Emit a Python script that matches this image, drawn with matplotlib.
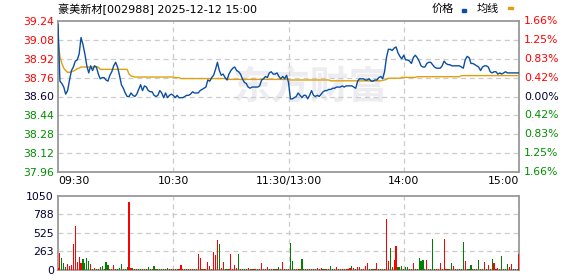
import matplotlib
matplotlib.use("Agg")
import matplotlib.pyplot as plt
from matplotlib.patches import Rectangle
from matplotlib.transforms import blended_transform_factory

plt.rcParams['font.family'] = ['DejaVu Sans', 'Noto Sans CJK SC']

title = "豪美新材[002988] 2025-12-12 15:00"
pre_close = 38.60

# minute prices 09:30 .. 11:30 / 13:00 .. 15:00 (241 points)
price = [
    39.21, 38.73, 38.71, 38.68, 38.62, 38.65, 38.74, 38.82, 38.85, 38.90,
    38.91, 38.96, 39.10, 39.04, 38.96, 38.86, 38.80, 38.86, 38.82, 38.86,
    38.85, 38.79, 38.75, 38.76, 38.76, 38.74, 38.73, 38.78, 38.81, 38.86,
    38.89, 38.85, 38.78, 38.70, 38.67, 38.63, 38.60, 38.60, 38.63, 38.61,
    38.60, 38.62, 38.66, 38.70, 38.65, 38.69, 38.68, 38.65, 38.64, 38.64,
    38.61, 38.60, 38.61, 38.65, 38.63, 38.59, 38.63, 38.59, 38.61, 38.62,
    38.61, 38.59, 38.61, 38.59, 38.59, 38.59, 38.60, 38.61, 38.61, 38.62,
    38.64, 38.63, 38.63, 38.63, 38.65, 38.66, 38.67, 38.68, 38.74, 38.73,
    38.76, 38.78, 38.83, 38.89, 38.82, 38.78, 38.79, 38.76, 38.74, 38.79,
    38.82, 38.84, 38.85, 38.82, 38.81, 38.79, 38.75, 38.72, 38.71, 38.68,
    38.67, 38.68, 38.68, 38.68, 38.68, 38.69, 38.74, 38.75, 38.77, 38.76,
    38.80, 38.81, 38.79, 38.79, 38.80, 38.77, 38.75, 38.77, 38.75, 38.78,
    38.72, 38.58, 38.58, 38.59, 38.60, 38.63, 38.61, 38.59, 38.61, 38.61,
    38.58, 38.61, 38.65, 38.61, 38.60, 38.61, 38.60, 38.62, 38.64, 38.65,
    38.65, 38.66, 38.66, 38.67, 38.67, 38.68, 38.68, 38.68, 38.69, 38.68,
    38.69, 38.69, 38.69, 38.69, 38.68, 38.67, 38.73, 38.75, 38.75, 38.75,
    38.74, 38.74, 38.75, 38.73, 38.73, 38.74, 38.74, 38.76, 38.77, 38.75,
    38.81, 38.93, 39.00, 39.00, 38.99, 39.01, 39.02, 38.97, 38.94, 38.92,
    38.95, 38.91, 38.91, 38.90, 38.88, 38.93, 38.95, 38.93, 38.90, 38.86,
    38.85, 38.85, 38.88, 38.89, 38.89, 38.87, 38.85, 38.84, 38.84, 38.84,
    38.86, 38.90, 38.88, 38.87, 38.87, 38.86, 38.86, 38.86, 38.86, 38.86,
    38.85, 38.84, 38.91, 38.94, 38.93, 38.88, 38.88, 38.87, 38.86, 38.85,
    38.82, 38.85, 38.86, 38.86, 38.85, 38.81, 38.80, 38.81, 38.81, 38.79,
    38.80, 38.79, 38.80, 38.81, 38.80, 38.80, 38.80, 38.80, 38.80, 38.80,
    38.80,
]

avg_price = [
    39.08, 38.94, 38.88, 38.84, 38.82, 38.805, 38.805, 38.81, 38.815, 38.825,
    38.835, 38.84, 38.85, 38.85, 38.85, 38.85, 38.85, 38.85, 38.85, 38.85,
    38.85, 38.85, 38.83, 38.83, 38.83, 38.83, 38.83, 38.83, 38.83, 38.83,
    38.83, 38.83, 38.83, 38.83, 38.83, 38.83, 38.83, 38.79, 38.775, 38.77,
    38.765, 38.765, 38.765, 38.765, 38.765, 38.765, 38.765, 38.765, 38.765, 38.765,
    38.765, 38.765, 38.765, 38.765, 38.765, 38.765, 38.765, 38.765, 38.765, 38.765,
    38.765, 38.76, 38.76, 38.76, 38.752, 38.752, 38.752, 38.752, 38.752, 38.752,
    38.752, 38.752, 38.752, 38.752, 38.752, 38.752, 38.752, 38.752, 38.752, 38.752,
    38.752, 38.752, 38.752, 38.752, 38.752, 38.752, 38.752, 38.752, 38.745, 38.745,
    38.745, 38.745, 38.745, 38.745, 38.745, 38.745, 38.745, 38.745, 38.745, 38.745,
    38.745, 38.745, 38.745, 38.745, 38.745, 38.745, 38.745, 38.745, 38.745, 38.745,
    38.745, 38.745, 38.745, 38.745, 38.745, 38.745, 38.745, 38.745, 38.745, 38.745,
    38.745, 38.74, 38.74, 38.74, 38.74, 38.74, 38.74, 38.74, 38.74, 38.74,
    38.74, 38.74, 38.74, 38.74, 38.74, 38.74, 38.74, 38.74, 38.74, 38.74,
    38.74, 38.74, 38.733, 38.733, 38.733, 38.733, 38.733, 38.733, 38.733, 38.733,
    38.733, 38.733, 38.733, 38.733, 38.733, 38.733, 38.733, 38.733, 38.733, 38.733,
    38.733, 38.733, 38.733, 38.733, 38.733, 38.733, 38.733, 38.733, 38.733, 38.737,
    38.74, 38.745, 38.755, 38.755, 38.755, 38.755, 38.755, 38.755, 38.755, 38.762,
    38.762, 38.762, 38.762, 38.762, 38.762, 38.762, 38.762, 38.768, 38.768, 38.768,
    38.768, 38.768, 38.768, 38.768, 38.768, 38.768, 38.768, 38.768, 38.768, 38.768,
    38.768, 38.768, 38.768, 38.768, 38.768, 38.768, 38.768, 38.768, 38.768, 38.768,
    38.777, 38.777, 38.777, 38.777, 38.777, 38.777, 38.777, 38.777, 38.777, 38.777,
    38.777, 38.777, 38.777, 38.777, 38.777, 38.777, 38.777, 38.777, 38.777, 38.777,
    38.777, 38.777, 38.777, 38.777, 38.777, 38.777, 38.777, 38.777, 38.777, 38.777,
    38.777,
]

volume = [
    30, 246, 175, 95, 47, 90, 61, 76, 374, 629,
    118, 189, 104, 161, 104, 175, 132, 90, 14, 33,
    19, 14, 43, 61, 19, 118, 76, 14, 14, 76,
    14, 14, 33, 90, 14, 14, 47, 970, 33, 33,
    14, 14, 14, 19, 14, 14, 14, 47, 14, 14,
    61, 14, 14, 14, 14, 14, 14, 33, 14, 14,
    14, 14, 14, 14, 76, 14, 14, 14, 14, 14,
    14, 14, 14, 232, 175, 14, 14, 14, 118, 61,
    14, 260, 218, 430, 374, 33, 118, 19, 19, 14,
    232, 14, 76, 33, 232, 14, 14, 19, 14, 33,
    14, 14, 14, 14, 14, 14, 104, 14, 14, 47,
    14, 14, 14, 14, 14, 47, 14, 118, 14, 14,
    14, 388, 132, 14, 14, 14, 14, 161, 14, 14,
    14, 19, 14, 14, 14, 33, 19, 33, 14, 14,
    14, 14, 61, 14, 14, 47, 14, 14, 14, 14,
    14, 14, 33, 61, 33, 14, 47, 47, 14, 14,
    61, 95, 14, 14, 14, 14, 95, 14, 14, 14,
    14, 728, 132, 317, 47, 147, 345, 47, 47, 61,
    14, 47, 47, 14, 19, 95, 14, 14, 175, 132,
    147, 14, 147, 14, 14, 445, 14, 14, 14, 95,
    14, 445, 14, 14, 14, 95, 61, 19, 14, 14,
    14, 402, 132, 14, 14, 76, 14, 14, 14, 147,
    14, 14, 118, 14, 76, 14, 161, 104, 19, 33,
    14, 203, 14, 14, 90, 47, 90, 14, 14, 14,
    232,
]

# r = up bar, g = down bar
bar_dir = ("rrgggrrrrr" "rrrggggrgr" "grggrggrrr" "rgggrggrrg" "rrggrgrggr"
           "ggrggrggrg" "rrgrrrgrgr" "rgrrrgrgrr" "grrrgrrggr" "rrrrgrgggr"
           "rgrrgrrgrr" "grrgrgrrrg" "rggrrgrggg" "rrgrgrrrgr" "grggrrgrrg"
           "rrrgrgrrgr" "rrgrgrrgrg" "rrrgrrrggg" "rggrgrgrgg" "ggrrgggrrr"
           "grrgrgrrgr" "ggrrggrgrg" "rgrgrggrrr" "ggrggrrgrg" "r")

price_ticks = [39.24, 39.08, 38.92, 38.76, 38.60, 38.44, 38.28, 38.12, 37.96]
pct_labels = ["1.66%", "1.25%", "0.83%", "0.42%", "0.00%",
              "0.42%", "0.83%", "1.25%", "1.66%"]
vol_ticks = [0, 263, 525, 788, 1050]
time_pos = [0, 60, 120, 180, 240]
time_labels = ["09:30", "10:30", "11:30/13:00", "14:00", "15:00"]

RED = '#ff0000'
GREEN = '#008f00'
DARK = '#000033'
W, H = 578, 276

fig = plt.figure(figsize=(W / 100, H / 100), dpi=100)
fig.patch.set_facecolor('white')


def px_axes(left, top, right, bottom):
    return fig.add_axes([left / W, 1 - bottom / H, (right - left) / W, (bottom - top) / H])


ax = px_axes(58, 21, 519, 172)
axv = px_axes(58, 196, 519, 270)

minutes = list(range(len(price)))

# faint watermark behind the price panel
fig.text(310 / W, 1 - 88 / H, "东方财富", fontsize=28, fontweight='bold',
         color='#ededf1', ha='center', va='center', family=['Noto Sans CJK SC'],
         style='italic', zorder=-5)

for a in (ax, axv):
    a.set_facecolor('none')
    a.set_xlim(0, 240)
    for s in a.spines.values():
        s.set_color('#999999')
        s.set_linewidth(1.3)
    a.tick_params(length=0)
    for xp in time_pos[1:-1]:
        a.axvline(xp, color='#cccccc', lw=0.9, ls=(0, (4, 3)), zorder=1)

# price panel
ax.set_ylim(price_ticks[-1], price_ticks[0])
for yv in price_ticks[1:-1]:
    ax.axhline(yv, color='#cccccc', lw=0.9, ls=(0, (4, 3)), zorder=1)
ax.plot(minutes, avg_price, color='#e0a010', lw=1.0, zorder=3)
ax.plot(minutes, price, color='#0b4fa0', lw=1.0, zorder=4)

ax.set_yticks(price_ticks)
ax.set_yticklabels([f"{v:.2f}" for v in price_ticks], fontsize=7.8)
for lab, v in zip(ax.get_yticklabels(), price_ticks):
    lab.set_color(RED if v > pre_close else (DARK if v == pre_close else GREEN))
ax.tick_params(axis='y', pad=3)

trans = blended_transform_factory(ax.transAxes, ax.transData)
for v, lab in zip(price_ticks, pct_labels):
    c = RED if v > pre_close else (DARK if v == pre_close else GREEN)
    ax.text(1.0 + 5 / 461, v, lab, transform=trans, ha='left', va='center',
            fontsize=7.8, color=c)

ax.set_xticks(time_pos)
ax.set_xticklabels(time_labels, fontsize=7.8, color='#000000')
ax.tick_params(axis='x', pad=3)
xl = ax.get_xticklabels()
xl[0].set_ha('left')
xl[-1].set_ha('right')

# volume panel
axv.set_ylim(0, vol_ticks[-1])
for yv in vol_ticks[1:-1]:
    axv.axhline(yv, color='#cccccc', lw=0.9, ls=(0, (4, 3)), zorder=1)
colors = [RED if d == 'r' else '#008000' for d in bar_dir]
axv.bar(minutes, volume, width=0.6, color=colors, linewidth=0, zorder=3)
axv.set_yticks(vol_ticks)
axv.set_yticklabels([str(v) for v in vol_ticks], fontsize=7.8, color=DARK)
axv.tick_params(axis='y', pad=3)
axv.set_xticks([])

# header
fig.text(58 / W, 1 - 9 / H, title, fontsize=8, ha='left', va='center', color='#000000')
fig.text(432 / W, 1 - 9 / H, "价格", fontsize=8, ha='left', va='center', color='#000000')
fig.patches.append(Rectangle((462 / W, 1 - 12 / H), 4 / W, 3 / H,
                             transform=fig.transFigure, color='#0b4fa0', figure=fig))
fig.text(477 / W, 1 - 9 / H, "均线", fontsize=8, ha='left', va='center', color='#000000')
fig.patches.append(Rectangle((508 / W, 1 - 9 / H), 5 / W, 2 / H,
                             transform=fig.transFigure, color='#e0a010', figure=fig))

fig.savefig("out.png", dpi=100)
